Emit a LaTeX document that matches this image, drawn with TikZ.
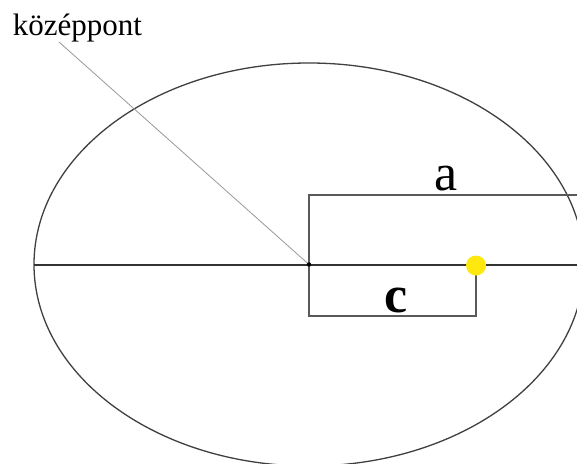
\documentclass[tikz,border=0pt]{standalone}
\usepackage{fontspec}
\setmainfont{Liberation Serif}
\begin{document}
\begin{tikzpicture}[x=1pt,y=-1pt,
  outline/.style={draw=black!75, line width=1.3pt},
  axisline/.style={draw=black!80, line width=2pt},
  boxline/.style={draw=black!65, line width=1.3pt},
  leader/.style={draw=black!40, line width=0.8pt},
  biglabel/.style={font=\fontsize{52}{52}\selectfont, inner sep=0pt},
  smalllabel/.style={font=\fontsize{31}{31}\selectfont, inner sep=0pt}]
\useasboundingbox (0,0) rectangle (577,463);
\clip (0,0) rectangle (577,463);
\fill[white] (0,0) rectangle (577,463);
% key points
\coordinate (O) at (309,264.5);
\coordinate (Lft) at (34,264.5);
\coordinate (Rgt) at (584,264.5);
\coordinate (F) at (476,265.5);
\coordinate (L) at (59,42);
% ellipse
\draw[outline] (O) ellipse [x radius=275, y radius=201.5];
% leader line
\draw[leader] (L) -- (O);
% semi-major box (a)
\draw[boxline] (O) -- (309,195) -- (584,195) -- (Rgt);
% focus box (c)
\draw[boxline] (O) -- (309,316) -- (476,316) -- (F);
% major axis
\draw[axisline] (Lft) -- (Rgt);
% center dot and focus
\fill[black] (O) circle (2.2);
\fill[yellow!90!orange!95!white] (F) circle (10);
% labels
\node[smalllabel, anchor=base west] (lbl) at (12.7,35) {középpont};
\node[biglabel, anchor=base] (a) at (446,190) {a};
\node[biglabel, font=\fontsize{52}{52}\selectfont\bfseries, anchor=base] (c) at (396,312) {c};
\end{tikzpicture}
\end{document}
